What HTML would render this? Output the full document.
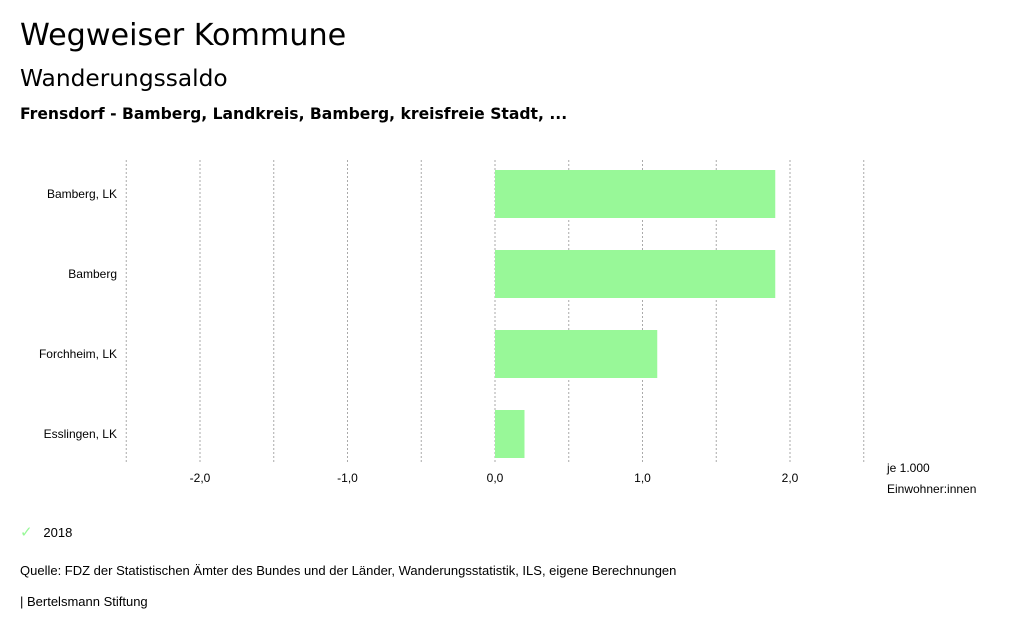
<!DOCTYPE html>
<html><head><meta charset="utf-8"><style>
body{margin:0;width:1024px;height:634px;background:#fff;font-family:"Liberation Sans","DejaVu Sans",sans-serif;color:#000;overflow:hidden}
.t{position:absolute;white-space:nowrap}
.d{font-family:"DejaVu Sans",sans-serif}
</style></head><body>
<div class="t d" style="left:20px;top:18px;font-size:30.2px">Wegweiser Kommune</div>
<div class="t d" style="left:20px;top:65px;font-size:23.3px">Wanderungssaldo</div>
<div class="t d" style="left:20px;top:105px;font-size:15.6px;font-weight:bold">Frensdorf - Bamberg, Landkreis, Bamberg, kreisfreie Stadt, ...</div>
<svg id="c" width="1024" height="634" style="position:absolute;left:0;top:0;font-family:'Liberation Sans',sans-serif;font-size:12px"></svg>
<div class="t" style="left:20px;top:523px;font-size:13px"><span style="color:#98f898;font-size:15px">✓</span>&nbsp;&nbsp; 2018</div>
<div class="t" style="left:20px;top:563px;font-size:13px">Quelle: FDZ der Statistischen Ämter des Bundes und der Länder, Wanderungsstatistik, ILS, eigene Berechnungen</div>
<div class="t" style="left:20px;top:594px;font-size:13px">| Bertelsmann Stiftung</div>
<script>
const categories=["Bamberg, LK","Bamberg","Forchheim, LK","Esslingen, LK"];
const values2018=[1.9,1.9,1.1,0.2];
const tickValues=[-2,-1,0,1,2];
const tickLabels=["-2,0","-1,0","0,0","1,0","2,0"];
const gridValues=[-2.5,-2,-1.5,-1,-0.5,0,0.5,1,1.5,2,2.5];
const svg=document.getElementById('c');const NS='http://www.w3.org/2000/svg';
const x=v=>495+v*147.5;const top0=160,band=80;
function mk(t,a){const e=document.createElementNS(NS,t);for(const k in a)e.setAttribute(k,a[k]);svg.appendChild(e);return e;}
gridValues.forEach(g=>{const l=mk('line',{x1:x(g),x2:x(g),y1:160,y2:464,stroke:'#aaa','stroke-dasharray':'2,2'});

});
tickValues.forEach((v,i)=>{const t=mk('text',{x:x(v),y:482,'text-anchor':'middle'});t.textContent=tickLabels[i];

});
categories.forEach((c,i)=>{const y=top0+i*band;
const r=mk('rect',{x:Math.min(x(0),x(values2018[i])),y:y+10,width:Math.abs(x(values2018[i])-x(0)),height:48,fill:'#98f898'});


const t=mk('text',{x:117,y:y+38,'text-anchor':'end'});t.textContent=c;

});
const u1=mk('text',{x:887,y:472});u1.textContent='je 1.000';


const u2=mk('text',{x:887,y:493});u2.textContent='Einwohner:innen';


</script>
</body></html>
